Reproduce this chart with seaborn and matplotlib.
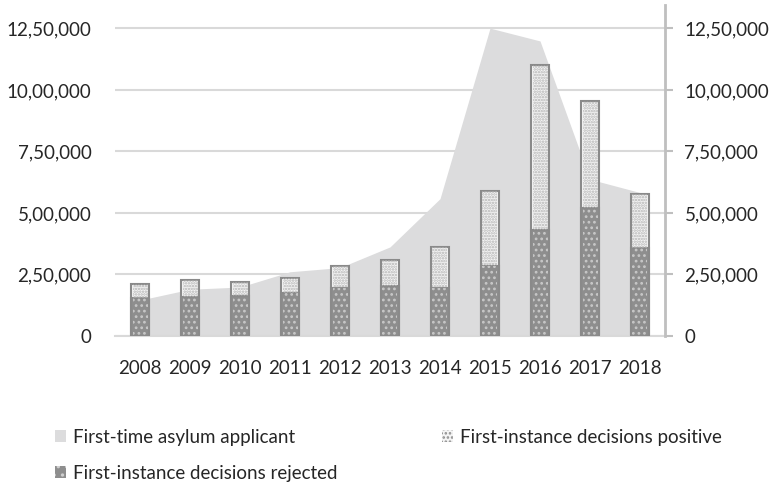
import numpy as np
import matplotlib
matplotlib.use("Agg")
import matplotlib.pyplot as plt
from matplotlib.patches import Patch
from matplotlib.ticker import FuncFormatter
import seaborn as sns

# values
years = ["2008", "2009", "2010", "2011", "2012", "2013", "2014", "2015", "2016", "2017", "2018"]
applicants = [146000, 190000, 199000, 261000, 278000, 362000, 558000, 1251000, 1199000, 637000, 583000]
rejected = [153000, 159000, 163000, 176000, 194000, 203000, 196000, 285000, 431000, 522000, 359000]
positive = [57000, 69000, 57000, 58000, 91000, 106000, 166000, 304000, 669000, 433000, 217000]
total = [r + p for r, p in zip(rejected, positive)]

ticks = [0, 250000, 500000, 750000, 1000000, 1250000]


def indian(v, pos=None):
    v = int(round(v))
    s = str(v)
    if len(s) <= 3:
        return s
    head, tail = s[:-3], s[-3:]
    parts = []
    while len(head) > 2:
        parts.insert(0, head[-2:])
        head = head[:-2]
    if head:
        parts.insert(0, head)
    return ",".join(parts) + "," + tail


sns.set_style("white")
plt.rcParams["font.family"] = ["Lato", "DejaVu Sans"]
plt.rcParams["hatch.linewidth"] = 1.2

fig = plt.figure(figsize=(7.77, 4.86), dpi=100)
ax = fig.add_axes([115 / 777, 150 / 486, 550 / 777, 331 / 486])

edge = "#8a8a8a"
x = np.arange(len(years))

# area for applicants
ax.fill_between(x, applicants, color="#dcdcdd", lw=0, zorder=1)

# stacked bars: total (positive on top) then rejected
sns.barplot(x=years, y=total, color="#f4f4f4", width=0.36, edgecolor=edge,
            linewidth=1.5, saturation=1, ax=ax, zorder=2)
sns.barplot(x=years, y=rejected, color="#8e8e8e", width=0.36, edgecolor=edge,
            linewidth=1.5, saturation=1, ax=ax, zorder=3)

# hatch overlays (separate colour from bar edge)
ax.bar(x, positive, bottom=rejected, width=0.3, color="none", edgecolor="#b4b4b4",
       hatch="......", lw=0, zorder=4)
ax.bar(x, rejected, width=0.3, color="none", edgecolor="#c8c8c8",
       hatch="...", lw=0, zorder=4)

ax.set_xlim(-0.5, len(years) - 0.5)
ax.set_ylim(0, 1345000)
ax.set_yticks(ticks)
ax.yaxis.set_major_formatter(FuncFormatter(indian))
ax.grid(axis="y", color="#d9d9d9", lw=1.5, zorder=0)
ax.set_axisbelow(True)
ax.tick_params(axis="y", length=0, pad=17, labelsize=13.5, labelcolor="#262626")
ax.tick_params(axis="x", length=0, pad=17, labelsize=13.5, labelcolor="#262626")
for s in ["left", "top", "right"]:
    ax.spines[s].set_visible(False)
ax.spines["bottom"].set_color("#d9d9d9")
ax.spines["bottom"].set_linewidth(1.5)

# secondary axis on the right
ax2 = ax.twinx()
ax2.set_ylim(ax.get_ylim())
ax2.set_yticks(ticks)
ax2.yaxis.set_major_formatter(FuncFormatter(indian))
ax2.tick_params(axis="y", length=6, width=1.5, color="#bfbfbf", pad=8,
                labelsize=13.5, labelcolor="#262626")
for s in ["left", "top", "bottom"]:
    ax2.spines[s].set_visible(False)
ax2.spines["right"].set_color("#bfbfbf")
ax2.spines["right"].set_linewidth(2)

handles = [
    Patch(facecolor="#dcdcdd", edgecolor="none", label="First-time asylum applicant"),
    Patch(facecolor="#8e8e8e", edgecolor="#cfcfcf", hatch="..", lw=0, label="First-instance decisions rejected"),
    Patch(facecolor="#f4f4f4", edgecolor="#8a8a8a", hatch="....", lw=0, label="First-instance decisions positive"),
]
fig.legend(handles=handles, ncol=2, loc="upper left", bbox_to_anchor=(38 / 777, 1 - 412 / 486),
           frameon=False, fontsize=13.5, handlelength=0.6, handleheight=0.6,
           handletextpad=0.35, columnspacing=5.6, labelspacing=1.0, labelcolor="#262626")

fig.savefig("out.png", dpi=100)
